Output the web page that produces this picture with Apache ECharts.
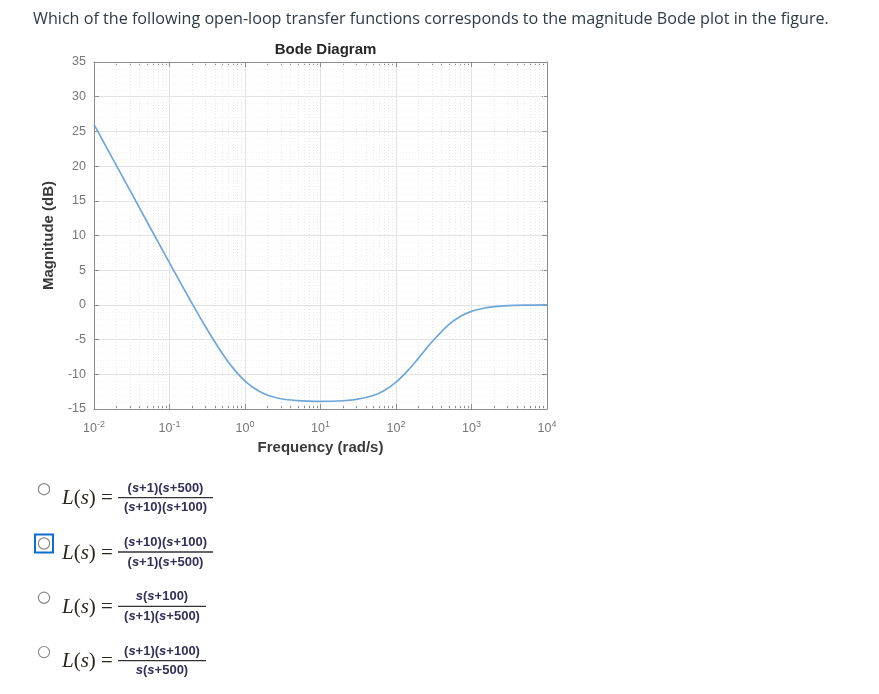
<!DOCTYPE html>
<html>
<head>
<meta charset="utf-8">
<script src="https://cdn.jsdelivr.net/npm/echarts@6/dist/echarts.min.js"></script>
<style>
html,body{margin:0;padding:0;background:#fff;}
#main{width:879px;height:694px;}
</style>
</head>
<body>
<div id="main"></div>
<script>
// ---- data ----
const freq = [0.01, 0.02, 0.05, 0.1, 0.2, 0.3, 0.5, 0.7, 1, 1.5, 2, 3, 5, 7, 10, 20, 30, 50, 70, 100, 150, 200, 300, 500, 700, 1000, 1500, 2000, 3000, 5000, 10000];
const magDb = [26.0, 20.0, 12.05, 6.06, 0.17, -3.15, -6.99, -9.15, -10.97, -12.38, -13.01, -13.52, -13.8, -13.87, -13.9, -13.81, -13.62, -13.05, -12.33, -11.14, -9.23, -7.63, -5.31, -2.84, -1.7, -0.93, -0.44, -0.25, -0.11, -0.04, -0.01];
const xTickExps = [-2, -1, 0, 1, 2, 3, 4];
const yMin = -15, yMax = 35, yStep = 5;
const question = "Which of the following open-loop transfer functions corresponds to the magnitude Bode plot in the figure.";
const chartTitle = "Bode Diagram";
const yName = "Magnitude (dB)";
const xName = "Frequency (rad/s)";
const numerators = ["(s+1)(s+500)", "(s+10)(s+100)", "s(s+100)", "(s+1)(s+100)"];
const denominators = ["(s+10)(s+100)", "(s+1)(s+500)", "(s+1)(s+500)", "s(s+500)"];
const selectedOption = 1;

// minor tick positions of the log axis (2..9 in each decade)
const minorVals = [];
for (let d = -2; d < 4; d++) for (let k = 2; k <= 9; k++) minorVals.push(+(k * Math.pow(10, d)).toPrecision(3));

const axisGray = '#8c8c8c';
const labelGray = '#767676';

const chart = echarts.init(document.getElementById('main'), null, {renderer: 'canvas'});

const gridL = 94, gridT = 62, gridR = 879 - 547, gridB = 694 - 409;

function supLabel(v) {
  const e = Math.round(Math.log10(v));
  return '{b|10}{s|' + e + '}';
}
const richSup = {
  b: {fontSize: 12.5, color: labelGray, fontFamily: 'Liberation Sans, Arial'},
  s: {fontSize: 9, color: labelGray, fontFamily: 'Liberation Sans, Arial', padding: [0, 0, 8, 0]}
};

const baseLog = {
  type: 'log', logBase: 10, min: 0.01, max: 10000, splitNumber: 6,
  gridIndex: 0
};

// option texts as graphic elements
const graphics = [];
graphics.push({
  type: 'text', left: 33, top: 11,
  style: {text: question, font: '16.15px "Open Sans"', fill: '#2d3b45'}
});
for (let i = 0; i < numerators.length; i++) {
  const bar = 497.7 + 54.3 * i;
  const narrow = i >= 2;
  const x1 = 118, x2 = narrow ? 206 : 213;
  const cx = (x1 + x2) / 2;
  graphics.push({
    type: 'circle', shape: {cx: 44, cy: bar - 8.5, r: 5.6},
    style: {fill: '#fff', stroke: '#8a8a8a', lineWidth: 1.2}
  });
  if (i === selectedOption) {
    graphics.push({
      type: 'rect', shape: {x: 35, y: bar - 17.5, width: 18, height: 18},
      style: {fill: 'none', stroke: '#0b6fd0', lineWidth: 2}
    });
  }
  graphics.push({
    type: 'text', x: 62, y: bar + 1,
    style: {
      text: '{i|L}{n|(}{i|s}{n|)}{n| =}',
      verticalAlign: 'middle',
      rich: {
        i: {font: 'italic 21px "Liberation Serif", "DejaVu Serif"', fill: '#2a251d'},
        n: {font: '21px "Liberation Serif", "DejaVu Serif"', fill: '#2a251d'}
      }
    }
  });
  graphics.push({
    type: 'line', shape: {x1: x1, y1: bar, x2: x2, y2: bar},
    style: {stroke: '#333', lineWidth: 1.3}
  });
  const fracRich = {
    i: {font: 'italic bold 13px "Liberation Sans", Arial', fill: '#33305a'},
    n: {font: 'bold 13px "Liberation Sans", Arial', fill: '#33305a'}
  };
  const toRich = s => s.split('').map(c => c === 's' ? '{i|s}' : '{n|' + c + '}').join('');
  graphics.push({
    type: 'text', x: cx, y: bar - 9.5,
    style: {text: toRich(numerators[i]), align: 'center', verticalAlign: 'middle', rich: fracRich}
  });
  graphics.push({
    type: 'text', x: cx, y: bar + 10,
    style: {text: toRich(denominators[i]), align: 'center', verticalAlign: 'middle', rich: fracRich}
  });
}

const minorMark = minorVals.map(v => ({xAxis: v}));

const option = {
  backgroundColor: '#fff',
  animation: false,
  title: {
    text: chartTitle, left: 320.5, top: 37, textAlign: 'center',
    textStyle: {fontSize: 15, fontWeight: 'bold', color: '#262626', fontFamily: 'Liberation Sans, Arial'}
  },
  grid: {left: gridL, top: gridT, right: gridR, bottom: gridB, containLabel: false},
  xAxis: [
    Object.assign({}, baseLog, {
      position: 'bottom',
      name: xName, nameLocation: 'middle', nameGap: 31,
      nameTextStyle: {fontSize: 15, fontWeight: 'bold', color: '#3a3a3a', fontFamily: 'Liberation Sans, Arial'},
      axisLine: {show: true, onZero: false, lineStyle: {color: axisGray, width: 1}},
      axisTick: {show: true, inside: true, length: 5, lineStyle: {color: axisGray}},
      axisLabel: {show: true, margin: 11, formatter: supLabel, rich: richSup, customValues: xTickExps.map(e => Math.pow(10, e))},
      splitLine: {show: true, lineStyle: {color: '#e3e3e3', width: 1}}
    }),
    Object.assign({}, baseLog, {
      position: 'bottom',
      axisLine: {show: false, onZero: false},
      axisTick: {show: true, inside: true, length: 3, customValues: minorVals, lineStyle: {color: axisGray}},
      axisLabel: {show: false},
      splitLine: {show: false}
    }),
    Object.assign({}, baseLog, {
      position: 'top',
      axisLine: {show: true, onZero: false, lineStyle: {color: axisGray, width: 1}},
      axisTick: {show: true, inside: true, length: 5, lineStyle: {color: axisGray}},
      axisLabel: {show: false},
      splitLine: {show: false}
    }),
    Object.assign({}, baseLog, {
      position: 'top',
      axisLine: {show: false, onZero: false},
      axisTick: {show: true, inside: true, length: 3, customValues: minorVals, lineStyle: {color: axisGray}},
      axisLabel: {show: false},
      splitLine: {show: false}
    })
  ],
  yAxis: [
    {
      type: 'value', min: yMin, max: yMax, interval: yStep, position: 'left',
      name: yName, nameLocation: 'middle', nameGap: 38,
      nameTextStyle: {fontSize: 15, fontWeight: 'bold', color: '#3a3a3a', fontFamily: 'Liberation Sans, Arial'},
      axisLine: {show: true, onZero: false, lineStyle: {color: axisGray, width: 1}},
      axisTick: {show: true, inside: true, length: 5, lineStyle: {color: axisGray}},
      axisLabel: {show: true, margin: 8, color: labelGray, fontSize: 12.5, fontFamily: 'Liberation Sans, Arial'},
      splitLine: {show: true, lineStyle: {color: '#e3e3e3', width: 1}},
      minorTick: {show: false, splitNumber: 5},
      minorSplitLine: {show: true, lineStyle: {color: '#f4f4f4', type: [1, 2], width: 1}}
    },
    {
      type: 'value', min: yMin, max: yMax, interval: yStep, position: 'right',
      axisLine: {show: true, onZero: false, lineStyle: {color: axisGray, width: 1}},
      axisTick: {show: true, inside: true, length: 5, lineStyle: {color: axisGray}},
      axisLabel: {show: false},
      splitLine: {show: false}
    }
  ],
  series: [
    {
      type: 'line', xAxisIndex: 0, yAxisIndex: 0,
      data: freq.map((f, i) => [f, magDb[i]]),
      showSymbol: false, smooth: 0.35,
      lineStyle: {color: '#6ea7d8', width: 1.7},
      z: 5,
      markLine: {
        silent: true, symbol: 'none', label: {show: false},
        lineStyle: {color: '#e8e8e8', type: [1, 2], width: 1},
        animation: false,
        data: minorMark
      }
    }
  ],
  graphic: graphics
};
chart.setOption(option);
</script>
</body>
</html>
